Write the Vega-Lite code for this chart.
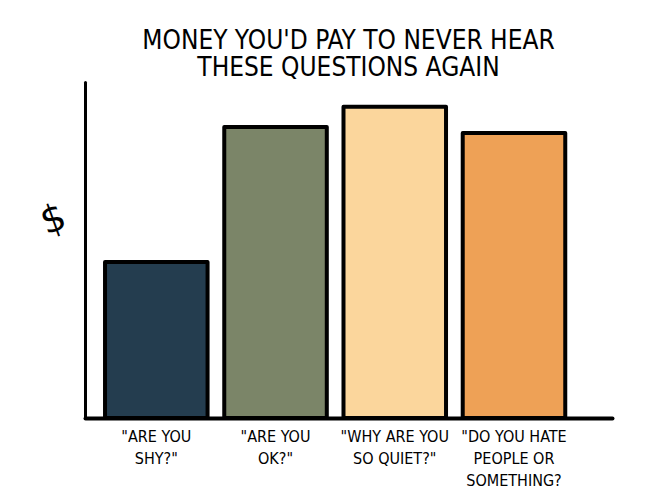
{
  "$schema": "https://vega.github.io/schema/vega-lite/v6.json",
  "description": "Hand-drawn style bar chart: money you'd pay to never hear these questions again.",
  "autosize": "none",
  "padding": {"left": 85, "top": 82, "right": 38, "bottom": 81},
  "width": 527,
  "height": 336,
  "background": "white",
  "title": {
    "text": ["MONEY YOU'D PAY TO NEVER HEAR", "THESE QUESTIONS AGAIN"],
    "font": "DejaVu Sans Condensed, Roboto, sans-serif",
    "fontSize": 26,
    "fontWeight": "normal",
    "lineHeight": 27,
    "color": "black",
    "anchor": "middle",
    "offset": 1
  },
  "data": {
    "values": [
      {"question": "\"ARE YOU\nSHY?\"", "money": 46.4},
      {"question": "\"ARE YOU\nOK?\"", "money": 86.6},
      {"question": "\"WHY ARE YOU\nSO QUIET?\"", "money": 92.6},
      {"question": "\"DO YOU HATE\nPEOPLE OR\nSOMETHING?", "money": 84.8}
    ]
  },
  "mark": {"type": "bar", "stroke": "black", "strokeWidth": 4, "strokeJoin": "round"},
  "encoding": {
    "x": {
      "field": "question",
      "type": "nominal",
      "sort": null,
      "title": null,
      "scale": {"paddingInner": 0.14, "paddingOuter": 0.28, "align": 0.3},
      "axis": {
        "labelAngle": 0,
        "labelExpr": "split(datum.label, '\\n')",
        "labelFont": "DejaVu Sans Condensed, Roboto, sans-serif",
        "labelFontSize": 16,
        "labelLineHeight": 22,
        "labelColor": "black",
        "labelPadding": 10,
        "labelLimit": 200,
        "ticks": false,
        "domainColor": "black",
        "domainWidth": 4,
        "domainCap": "round"
      }
    },
    "y": {
      "field": "money",
      "type": "quantitative",
      "scale": {"domain": [0, 100]},
      "title": "$",
      "axis": {
        "labels": false,
        "ticks": false,
        "grid": false,
        "domainColor": "black",
        "domainWidth": 3,
        "domainCap": "round",
        "titleFont": "DejaVu Sans",
        "titleFontSize": 38,
        "titleFontWeight": "normal",
        "titleColor": "black",
        "titleAngle": -20,
        "titleX": -32,
        "titleY": 138,
        "titleAlign": "center",
        "titleBaseline": "middle"
      }
    },
    "fill": {
      "field": "question",
      "type": "nominal",
      "sort": null,
      "legend": null,
      "scale": {"range": ["#243d4f", "#7b8568", "#fbd69c", "#eea156"]}
    }
  },
  "config": {"view": {"stroke": null}}
}
